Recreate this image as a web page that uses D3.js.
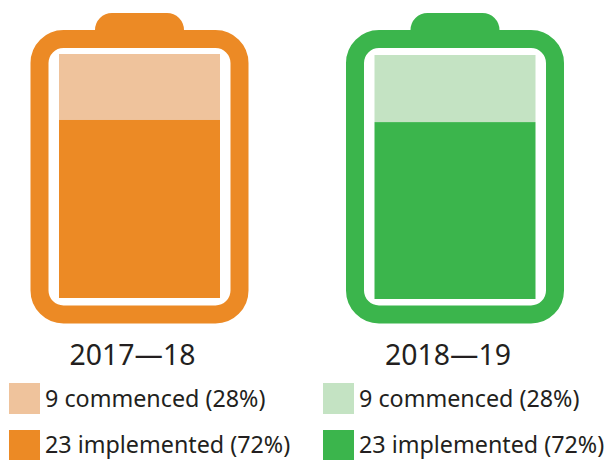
<!DOCTYPE html>
<html>
<head>
<meta charset="utf-8">
<style>
  html, body { margin: 0; padding: 0; background: #fff; }
  svg { display: block; }
  text { font-family: "Noto Sans", sans-serif; fill: #231f20; }
</style>
<script src="https://cdn.jsdelivr.net/npm/d3@7"></script>
</head>
<body>
<div id="chart"></div>
<script>
const years = ["2017\u201418", "2018\u201419"];
const seriesNames = ["commenced", "implemented"];
const commencedCount = [9, 9];
const implementedCount = [23, 23];
const commencedPct = [28, 28];
const implementedPct = [72, 72];
const commencedDrawn = [8.65, 8.8];
const implementedDrawn = [23.35, 23.2];
const darkColors = ["#ec8a25", "#3bb54c"];
const lightColors = ["#efc39c", "#c4e3c3"];

const width = 604, height = 460;

const svg = d3.select("#chart")
  .append("svg")
    .attr("width", width)
    .attr("height", height);

// left edge of each battery
const x = d3.scaleOrdinal().domain(years).range([30.5, 346]);
const fillY = d3.scaleOrdinal().domain(years).range([[298, 54], [299, 55]]);

const battery = svg.selectAll(".battery")
  .data(years)
  .enter()
  .append("g")
    .attr("class", "battery")
    .attr("transform", d => `translate(${x(d)},30)`);

// cap, tucked behind the body
battery.append("path")
  .attr("d", "M64.5,1 V0 A17,17 0 0 1 81.5,-17 H136.5 A17,17 0 0 1 153.5,0 V1 Z")
  .attr("fill", (d, i) => darkColors[i]);

// body: outer rounded rect with a white inside
battery.append("rect")
  .attr("x", 9)
  .attr("y", 9)
  .attr("width", 200)
  .attr("height", 275.5)
  .attr("rx", 24)
  .attr("fill", "#fff")
  .attr("stroke", (d, i) => darkColors[i])
  .attr("stroke-width", 18);

// fill levels
const fills = svg.selectAll(".fill")
  .data(years)
  .enter()
  .append("g")
    .attr("class", "fill");

fills.each(function(d, i) {
  const y = d3.scaleLinear().domain([0, 32]).range(fillY(d));
  const g = d3.select(this);
  const left = x(d) + 28.5;
  g.append("rect")
    .attr("x", left)
    .attr("width", 161)
    .attr("y", y(implementedDrawn[i] + commencedDrawn[i]))
    .attr("height", y(implementedDrawn[i]) - y(implementedDrawn[i] + commencedDrawn[i]))
    .attr("fill", lightColors[i]);
  g.append("rect")
    .attr("x", left)
    .attr("width", 161)
    .attr("y", y(implementedDrawn[i]))
    .attr("height", y(0) - y(implementedDrawn[i]))
    .attr("fill", darkColors[i]);
});

// year labels
svg.selectAll(".year")
  .data(years)
  .enter()
  .append("text")
    .attr("class", "year")
    .attr("x", d => x(d) + 102)
    .attr("y", 365)
    .attr("text-anchor", "middle")
    .style("font-size", "28.4px")
    .text(d => d);

// legends
const legendX = d3.scaleOrdinal().domain(years).range([9, 323]);
const legendY = d3.scaleOrdinal().domain(seriesNames).range([383, 430]);
// second row sits a touch higher than the reference so the descenders stay on the page
const labelY = d3.scaleOrdinal().domain(seriesNames).range([24, 23]);

years.forEach((yr, i) => {
  const rows = [
    { name: seriesNames[0], color: lightColors[i], label: `${commencedCount[i]} commenced (${commencedPct[i]}%)` },
    { name: seriesNames[1], color: darkColors[i], label: `${implementedCount[i]} implemented (${implementedPct[i]}%)` }
  ];
  const legend = svg.selectAll(".legend-" + i)
    .data(rows)
    .enter()
    .append("g")
      .attr("class", "legend-" + i)
      .attr("transform", d => `translate(${legendX(yr)},${legendY(d.name)})`);

  legend.append("rect")
    .attr("width", 31)
    .attr("height", 31)
    .attr("fill", d => d.color);

  legend.append("text")
    .attr("x", 36)
    .attr("y", d => labelY(d.name))
    .style("font-size", "23.3px")
    .text(d => d.label);
});
</script>
</body>
</html>
